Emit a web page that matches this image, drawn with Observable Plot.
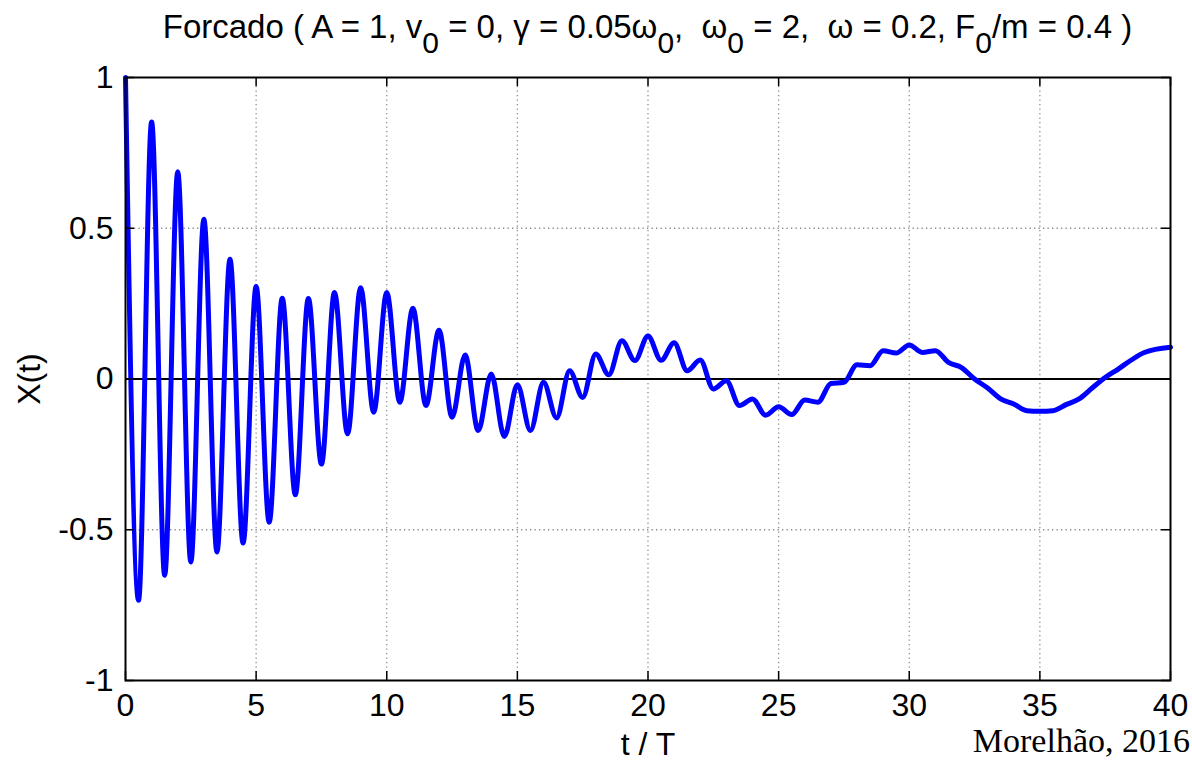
<!DOCTYPE html>
<html>
<head>
<meta charset="utf-8">
<script src="https://cdn.jsdelivr.net/npm/d3@7"></script>
<script src="https://cdn.jsdelivr.net/npm/@observablehq/plot@0.6"></script>
<style>
  html, body { margin: 0; padding: 0; background: #fff; overflow: hidden; }
  body { width: 1192px; height: 760px; position: relative; font-family: "Liberation Sans", Arial, sans-serif; }
  #title { box-sizing: border-box; height: 62px; padding: 10px 22px 0 125px; text-align: center;
           font-size: 33px; line-height: 33px; white-space: pre; color: #000; }
  #title .sub { position: relative; top: 15px; font-size: 30px; }
  #chart svg { display: block; }
  #caption { position: absolute; right: 2px; top: 724px; font-family: "Liberation Serif", "DejaVu Serif", serif;
             font-size: 34px; line-height: 34px; color: #000; white-space: nowrap; }
</style>
</head>
<body>
<div id="title">Forcado ( A = 1, v<span class="sub">0</span> = 0, γ = 0.05ω<span class="sub">0</span>,  ω<span class="sub">0</span> = 2,  ω = 0.2, F<span class="sub">0</span>/m = 0.4 )</div>
<div id="chart"></div>
<div id="caption">Morelhão, 2016</div>
<script>
// ---- data ----
const tValues = [
  0, 0.5, 1, 1.5, 2, 2.5, 3, 3.5, 4, 4.5,
  5, 5.5, 6, 6.5, 7, 7.5, 8, 8.5, 9, 9.5,
  10, 10.5, 11, 11.5, 12, 12.5, 13, 13.5, 14, 14.5,
  15, 15.5, 16, 16.5, 17, 17.5, 18, 18.5, 19, 19.5,
  20, 20.5, 21, 21.5, 22, 22.5, 23, 23.5, 24, 24.5,
  25, 25.5, 26, 26.5, 27, 27.5, 28, 28.5, 29, 29.5,
  30, 30.5, 31, 31.5, 32, 32.5, 33, 33.5, 34, 34.5,
  35, 35.5, 36, 36.5, 37, 37.5, 38, 38.5, 39, 40
];
const xValues = [
  1.0, -0.734, 0.852, -0.651, 0.687, -0.607, 0.53, -0.574, 0.397, -0.544,
  0.307, -0.475, 0.268, -0.384, 0.267, -0.282, 0.287, -0.182, 0.303, -0.11,
  0.287, -0.077, 0.235, -0.088, 0.162, -0.127, 0.08, -0.171, 0.017, -0.191,
  -0.019, -0.171, -0.011, -0.129, 0.027, -0.061, 0.083, 0.014, 0.127, 0.061,
  0.143, 0.062, 0.12, 0.027, 0.063, -0.033, -0.006, -0.088, -0.066, -0.12,
  -0.092, -0.118, -0.07, -0.077, -0.015, -0.011, 0.047, 0.044, 0.094, 0.086,
  0.113, 0.088, 0.094, 0.055, 0.038, 0.0, -0.03, -0.066, -0.083, -0.105,
  -0.107, -0.105, -0.085, -0.066, -0.03, 0.005, 0.033, 0.063, 0.088, 0.105
];
const xTicks = [0, 5, 10, 15, 20, 25, 30, 35, 40];
const xTickLabels = ["0", "5", "10", "15", "20", "25", "30", "35", "40"];
const yTicks = [-1, -0.5, 0, 0.5, 1];
const yTickLabels = ["-1", "-0.5", "0", "0.5", "1"];
const xLabel = ["t / T"];
const yLabel = ["X(t)"];

// ---- chart ----
const W = 1192, H = 698;
const mL = 125, mR = 22, mT = 15, mB = 80;
const innerW = W - mL - mR, innerH = H - mT - mB;
const tick = 9;

const series = tValues.map((t, i) => ({t, x: xValues[i]}));
const xFmt = new Map(xTicks.map((d, i) => [d, xTickLabels[i]]));
const yFmt = new Map(yTicks.map((d, i) => [d, yTickLabels[i]]));
const gridStyle = {stroke: "#8a8a8a", strokeOpacity: 1, strokeWidth: 1.3, strokeDasharray: "1.3,3.2"};

const chart = Plot.plot({
  width: W, height: H,
  marginLeft: mL, marginRight: mR, marginTop: mT, marginBottom: mB,
  style: {fontFamily: "'Liberation Sans', Arial, sans-serif", fontSize: "32px", color: "#000", background: "#fff", overflow: "visible"},
  x: {domain: [0, 40]},
  y: {domain: [-1, 1]},
  marks: [
    Plot.gridX(xTicks.slice(1, -1), gridStyle),
    Plot.gridY(yTicks.filter(d => d !== 0 && Math.abs(d) !== 1), gridStyle),
    Plot.ruleY([0], {stroke: "#000", strokeWidth: 2}),
    Plot.line(series, {x: "t", y: "x", stroke: "#0000ff", strokeWidth: 5, curve: "monotone-x"}),
    Plot.frame({stroke: "#000", strokeWidth: 2}),
    Plot.tickX(xTicks, {x: d => d, insetTop: innerH - tick, stroke: "#000", strokeWidth: 1.5}),
    Plot.tickX(xTicks, {x: d => d, insetBottom: innerH - tick, stroke: "#000", strokeWidth: 1.5}),
    Plot.tickY(yTicks, {y: d => d, insetRight: innerW - tick, stroke: "#000", strokeWidth: 1.5}),
    Plot.tickY(yTicks, {y: d => d, insetLeft: innerW - tick, stroke: "#000", strokeWidth: 1.5}),
    Plot.axisX(xTicks, {tickSize: 0, tickPadding: 13, tickFormat: d => xFmt.get(d), label: null}),
    Plot.axisY(yTicks, {tickSize: 0, tickPadding: 12, tickFormat: d => yFmt.get(d), label: null}),
    Plot.text(xLabel, {text: d => d, frameAnchor: "bottom", dy: 74, lineAnchor: "bottom", textAnchor: "middle", fill: "#000"}),
    Plot.text(yLabel, {text: d => d, frameAnchor: "left", dx: -96, rotate: -90, lineAnchor: "middle", textAnchor: "middle", fill: "#000"})
  ]
});
document.getElementById("chart").appendChild(chart);
</script>
</body>
</html>
